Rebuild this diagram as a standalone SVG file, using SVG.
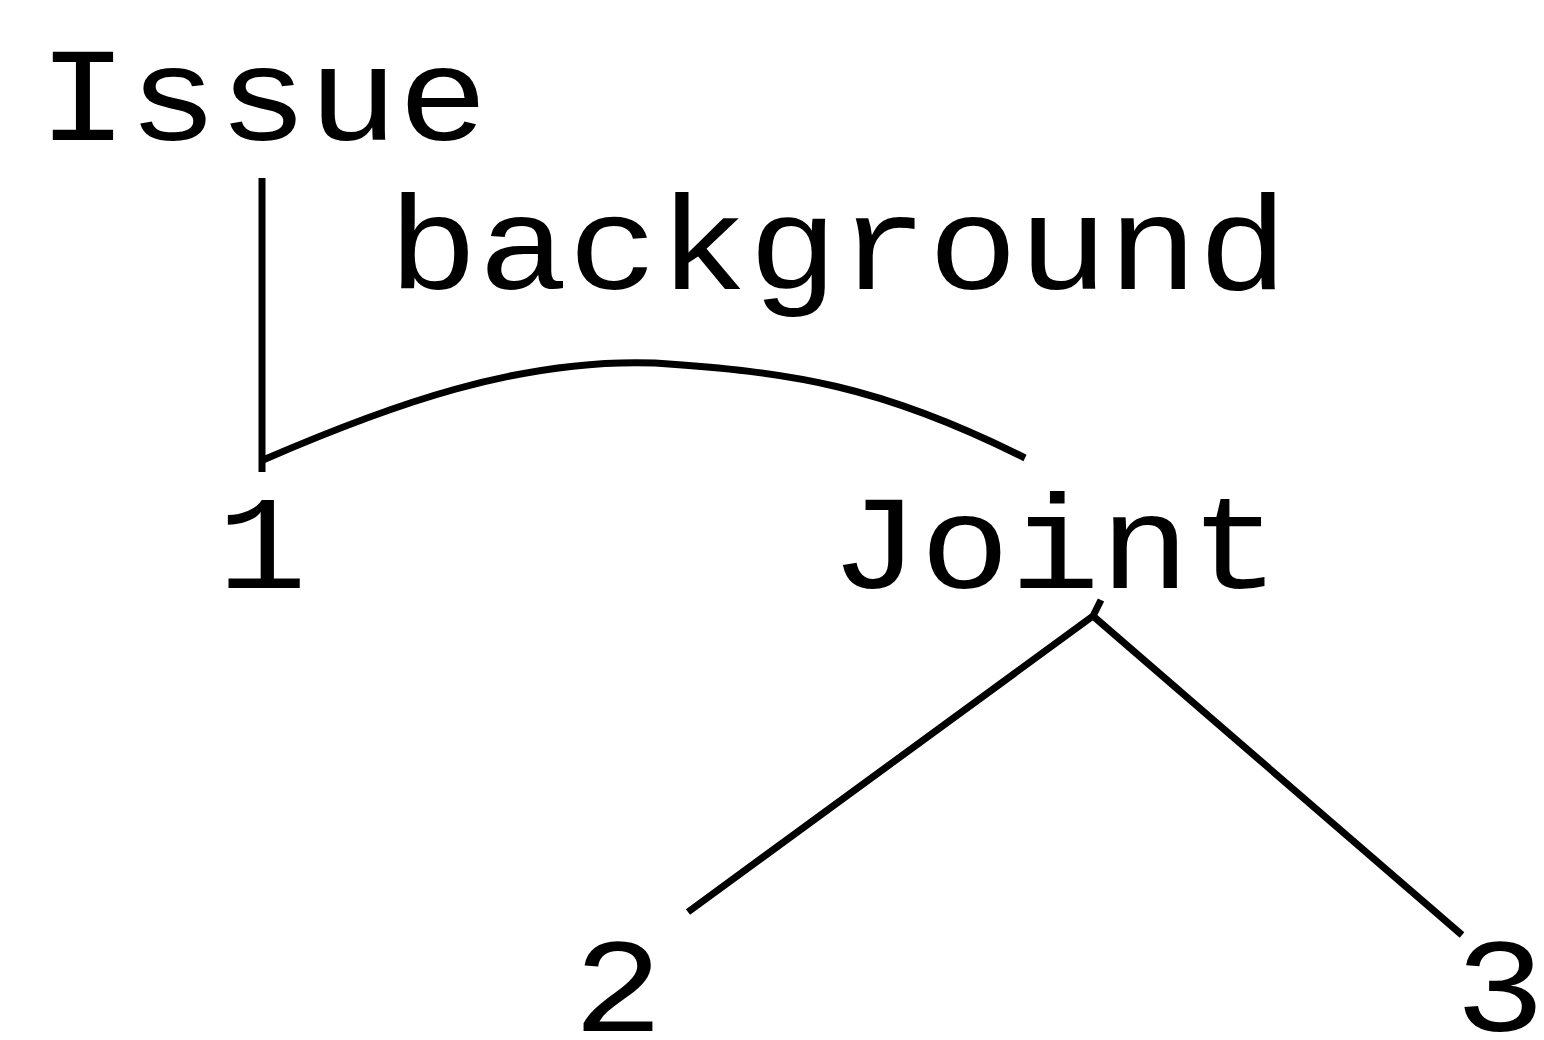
<svg xmlns="http://www.w3.org/2000/svg" width="1544" height="1040" viewBox="0 0 1544 1040">
<style>
text{font-family:"Liberation Mono","Courier New",monospace;font-size:150px;fill:#000;text-anchor:middle}
.e{fill:none;stroke:#000;stroke-width:7;stroke-linecap:butt;stroke-linejoin:round}
</style>
<rect width="1544" height="1040" fill="#fff"/>
<g id="edges">
<path class="e" d="M262,178 L262,472"/>
<path class="e" d="M263,460 C 390,405 520,358 655,363 C 790,372 880,385 1025,458"/>
<path class="e" d="M1101,600 L1093,616 L688,912"/>
<path class="e" d="M1093,616 L1462,935"/>
</g>
<g id="node-issue"><text transform="translate(263,140) scale(1,0.89)">Issue</text></g>
<g id="node-background"><text transform="translate(838,289) scale(1,0.89)">background</text></g>
<g id="node-1"><text transform="translate(262,588) scale(1,0.89)">1</text></g>
<g id="node-joint"><text transform="translate(1055,588) scale(1,0.89)">Joint</text></g>
<g id="node-2"><text transform="translate(618,1031) scale(1,0.89)">2</text></g>
<g id="node-3"><text transform="translate(1500,1031) scale(1,0.89)">3</text></g>
</svg>
